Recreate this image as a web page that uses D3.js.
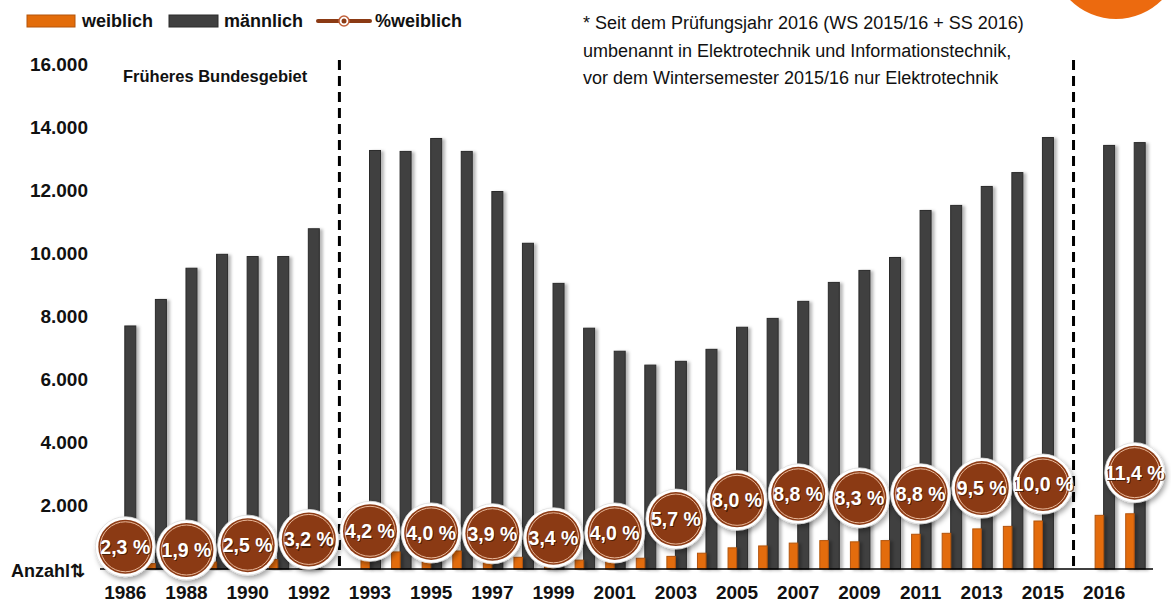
<!DOCTYPE html>
<html>
<head>
<meta charset="utf-8">
<script src="https://cdn.jsdelivr.net/npm/d3@7"></script>
<style>
  body { margin: 0; background: #fff; }
  text { font-family: "Liberation Sans", Arial, sans-serif; }
</style>
</head>
<body>
<div id="chart"></div>
<script>
// categories (gap slots separate the three periods)
const categories = ["1986","1987","1988","1989","1990","1991","1992","gap1",
  "1993","1994","1995","1996","1997","1998","1999","2000","2001","2002","2003","2004",
  "2005","2006","2007","2008","2009","2010","2011","2012","2013","2014","2015","gap2",
  "2016","2017"];
const maennlich = [7700,8540,9530,9970,9900,9900,10780,null,
  13260,13230,13640,13230,11960,10320,9050,7630,6900,6460,6580,6960,
  7660,7940,8480,9080,9460,9870,11360,11520,12120,12560,13670,null,
  13420,13510];
const weiblich = [180,170,185,220,250,300,360,null,
  580,540,570,570,490,370,320,280,290,340,400,500,
  670,730,820,900,860,900,1100,1130,1270,1350,1520,null,
  1700,1750];
const prozentWeiblich = [2.3,null,1.9,null,2.5,null,3.2,null,
  4.2,null,4.0,null,3.9,null,3.4,null,4.0,null,5.7,null,
  8.0,null,8.8,null,8.3,null,8.8,null,9.5,null,10.0,null,
  null,11.4];
const xTickLabels = ["1986","1988","1990","1992","1993","1995","1997","1999","2001","2003",
  "2005","2007","2009","2011","2013","2015","2016"];
const yTicks = [2000,4000,6000,8000,10000,12000,14000,16000];
const dividers = ["gap1","gap2"];
const noteLines = ["* Seit dem Prüfungsjahr 2016 (WS 2015/16 + SS 2016)",
  "umbenannt in Elektrotechnik und Informationstechnik,",
  "vor dem Wintersemester 2015/16 nur Elektrotechnik"];

const margin = {top: 64, right: 21, bottom: 35, left: 110};
const width = 1171 - margin.left - margin.right;
const height = 604 - margin.top - margin.bottom;

const de = d3.formatLocale({decimal: ",", thousands: ".", grouping: [3], currency: ["", "€"]});

const svg = d3.select("#chart").append("svg")
  .attr("width", 1171).attr("height", 604);

const defs = svg.append("defs");
const barShadow = defs.append("filter").attr("id", "barShadow")
  .attr("x", "-50%").attr("y", "-10%").attr("width", "220%").attr("height", "130%");
barShadow.append("feDropShadow").attr("dx", 3).attr("dy", 1).attr("stdDeviation", 1.8)
  .attr("flood-color", "#000").attr("flood-opacity", 0.28);
const dotShadow = defs.append("filter").attr("id", "dotShadow")
  .attr("x", "-30%").attr("y", "-30%").attr("width", "170%").attr("height", "170%");
dotShadow.append("feDropShadow").attr("dx", 2).attr("dy", 3).attr("stdDeviation", 2.5)
  .attr("flood-color", "#000").attr("flood-opacity", 0.35);

// orange decoration top right
svg.append("circle").attr("cx", 1116).attr("cy", -46).attr("r", 65).attr("fill", "#EC6A0F");

const g = svg.append("g").attr("transform", `translate(${margin.left},${margin.top})`);

const x = d3.scaleBand().domain(categories).range([0, width]).padding(0);
const y = d3.scaleLinear().domain([0, 16000]).range([height, 0]);
const yp = d3.scaleLinear().domain([0, 62]).range([height, 0]);
const cx = d => x(d) + x.bandwidth() / 2;

// y axis
const yAxis = g.append("g")
  .call(d3.axisLeft(y).tickValues(yTicks).tickSize(0).tickPadding(22).tickFormat(de.format(",")));
yAxis.select(".domain").remove();
yAxis.selectAll("text").attr("font-size", 19).attr("font-weight", "bold").attr("fill", "#111")
  .attr("font-family", "Liberation Sans, Arial, sans-serif");

// dashed dividers
g.selectAll(".divider").data(dividers).enter().append("line")
  .attr("x1", d => cx(d)).attr("x2", d => cx(d))
  .attr("y1", -4).attr("y2", height)
  .attr("stroke", "#000").attr("stroke-width", 3).attr("stroke-dasharray", "10,6");

// bars
const rows = categories.map((c, i) => ({c, w: weiblich[i], m: maennlich[i], p: prozentWeiblich[i]}));
const barRows = rows.filter(d => d.m != null);

g.selectAll(".bar-m").data(barRows).enter().append("rect")
  .attr("class", "bar-m")
  .attr("x", d => cx(d.c) - 0.5)
  .attr("width", 11)
  .attr("y", d => y(d.m))
  .attr("height", d => height - y(d.m))
  .attr("fill", "#404040").attr("stroke", "#2b2b2b").attr("stroke-width", 1)
  .attr("filter", "url(#barShadow)");

g.selectAll(".bar-w").data(barRows).enter().append("rect")
  .attr("class", "bar-w")
  .attr("x", d => cx(d.c) - 9)
  .attr("width", 8.5)
  .attr("y", d => y(d.w))
  .attr("height", d => height - y(d.w))
  .attr("fill", "#E36C0A").attr("stroke", "#B4540A").attr("stroke-width", 1)
  .attr("filter", "url(#barShadow)");

// x axis
const xAxis = g.append("g").attr("transform", `translate(0,${height})`)
  .call(d3.axisBottom(x).tickValues(xTickLabels).tickSize(0).tickPadding(17));
xAxis.select(".domain").attr("stroke", "#000").attr("stroke-width", 1.5)
  .attr("d", `M-10,0H${width + 3}`);
xAxis.selectAll("text").attr("font-size", 19).attr("font-weight", "bold").attr("fill", "#111")
  .attr("font-family", "Liberation Sans, Arial, sans-serif");

// percent markers
const dots = g.selectAll(".dot").data(rows.filter(d => d.p != null)).enter().append("g")
  .attr("class", "dot")
  .attr("transform", d => `translate(${cx(d.c)},${yp(d.p) - 3.5})`);
dots.append("circle").attr("r", 30).attr("fill", "#fff").attr("stroke", "#ddd").attr("stroke-width", 0.8)
  .attr("filter", "url(#dotShadow)");
dots.append("circle").attr("r", 27).attr("fill", "#8B3A14");
dots.append("circle").attr("r", 25).attr("fill", "none").attr("stroke", "#E8B89A").attr("stroke-width", 1);
const pct = d => de.format(".1f")(d.p) + " %";
dots.append("text").attr("x", 1.2).attr("y", 8.2).attr("text-anchor", "middle")
  .attr("font-size", 19.5).attr("font-weight", "bold").attr("fill", "#3a1a08").attr("opacity", 0.8)
  .text(pct);
dots.append("text").attr("y", 7).attr("text-anchor", "middle")
  .attr("font-size", 19.5).attr("font-weight", "bold").attr("fill", "#fff")
  .text(pct);

// labels
svg.append("text").attr("x", 123).attr("y", 82).attr("font-size", 16.5).attr("font-weight", "bold")
  .attr("fill", "#111").text("Früheres Bundesgebiet");
svg.append("text").attr("x", 11).attr("y", 577).attr("font-size", 18).attr("font-weight", "bold")
  .attr("fill", "#111").text("Anzahl⇅");

svg.append("g").selectAll("text").data(noteLines).enter().append("text")
  .attr("x", 583).attr("y", (d, i) => 29 + i * 27.5)
  .attr("font-size", 18).attr("fill", "#111").text(d => d);

// legend
const legend = svg.append("g").attr("transform", "translate(27,0)");
legend.append("rect").attr("x", 0).attr("y", 15).attr("width", 48).attr("height", 12)
  .attr("fill", "#E36C0A").attr("stroke", "#B4540A");
legend.append("text").attr("x", 55).attr("y", 27).attr("font-size", 18).attr("font-weight", "bold")
  .attr("fill", "#111").text("weiblich");
legend.append("rect").attr("x", 142).attr("y", 15).attr("width", 49).attr("height", 12)
  .attr("fill", "#404040").attr("stroke", "#2b2b2b");
legend.append("text").attr("x", 197).attr("y", 27).attr("font-size", 18).attr("font-weight", "bold")
  .attr("fill", "#111").text("männlich");
legend.append("line").attr("x1", 291).attr("x2", 343).attr("y1", 21).attr("y2", 21)
  .attr("stroke", "#8B3A14").attr("stroke-width", 4).attr("stroke-linecap", "round");
legend.append("circle").attr("cx", 317).attr("cy", 21).attr("r", 5).attr("fill", "#fff")
  .attr("stroke", "#C0603A").attr("stroke-width", 1.5);
legend.append("circle").attr("cx", 317).attr("cy", 21).attr("r", 2.5).attr("fill", "#8B3A14");
legend.append("text").attr("x", 348).attr("y", 27).attr("font-size", 18).attr("font-weight", "bold")
  .attr("fill", "#111").text("%weiblich");
</script>
</body>
</html>
